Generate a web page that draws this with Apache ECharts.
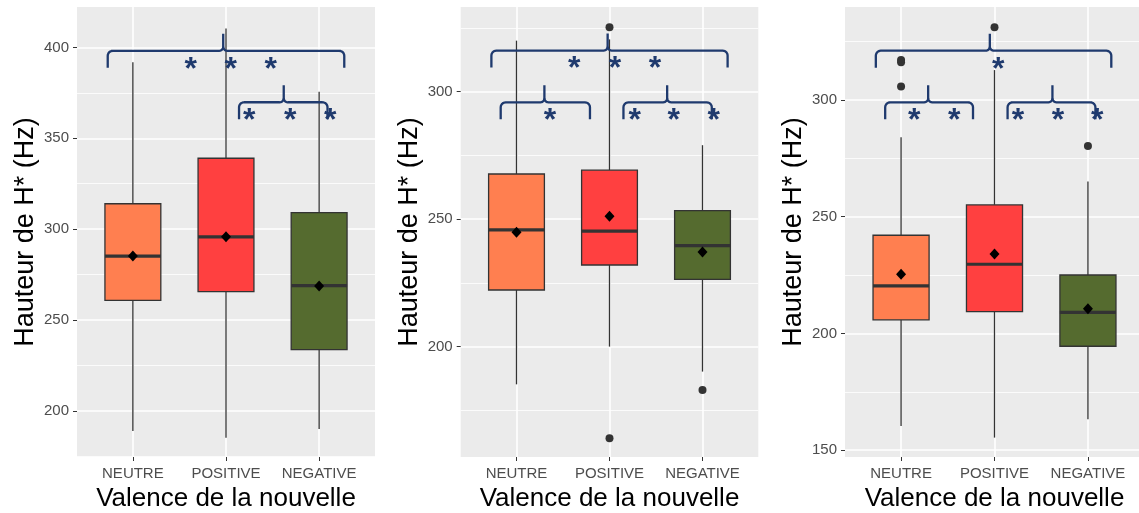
<!DOCTYPE html>
<html><head><meta charset="utf-8">
<script src="https://cdn.jsdelivr.net/npm/echarts@6/dist/echarts.min.js"></script>
<style>html,body{margin:0;padding:0;background:#fff}#c{width:1139px;height:513px}</style>
</head><body><div id="c"></div>
<script>
const categories = ['NEUTRE', 'POSITIVE', 'NEGATIVE'];
const catTicks = [0, 1, 2];

// Panel 1
const yRange1 = [174.7, 422.2];
const yTicks1 = [200, 250, 300, 350, 400];
const yMinor1 = [175, 225, 275, 325, 375];
// [lower whisker, Q1, median, Q3, upper whisker]
const box1 = [[189, 260.8, 285.2, 314, 391.8], [185.3, 265.7, 295.8, 339, 410.4], [190.1, 233.8, 269, 309.1, 375.6]];
const mean1 = [285.2, 295.8, 268.8];
const outliers1 = [];
// braces: [start, end, tip, level]
const braces1 = [[-0.27, 2.27, 0.97, 398.1], [1.14, 2.09, 1.62, 369.8]];
const stars1 = [[0.62, 1.05, 1.48], [1.25, 1.69, 2.12]];

// Panel 2
const yRange2 = [156.7, 333.2];
const yTicks2 = [200, 250, 300];
const yMinor2 = [175, 225, 275, 325];
const box2 = [[185.2, 222.2, 245.8, 267.7, 320], [200, 232, 245.3, 269.2, 320.5], [190.2, 226.4, 239.6, 253.3, 279]];
const mean2 = [244.9, 251.1, 237.1];
const outliers2 = [[1, 325.3], [1, 164.1], [2, 183]];
const braces2 = [[-0.27, 2.27, 0.98, 316.1], [-0.17, 0.79, 0.30, 295.8], [1.15, 2.10, 1.62, 295.8]];
const stars2 = [[0.62, 1.06, 1.49], [0.36], [1.27, 1.69, 2.12]];

// Panel 3
const yRange3 = [147.1, 339.7];
const yTicks3 = [150, 200, 250, 300];
const yMinor3 = [175, 225, 275, 325];
const box3 = [[160.4, 205.8, 220.3, 242, 283.9], [155.4, 209.3, 229.6, 255, 312.7], [163.3, 194.5, 209, 225, 265]];
const mean3 = [225.3, 234, 210.6];
const outliers3 = [[0, 317], [0, 316], [0, 305.7], [1, 331], [2, 280.2]];
const braces3 = [[-0.27, 2.25, 0.95, 321.0], [-0.17, 0.77, 0.29, 298.9], [1.14, 2.08, 1.62, 298.9]];
const stars3 = [[1.04], [0.14, 0.57], [1.25, 1.68, 2.10]];

const yTitle = 'Hauteur de H* (Hz)';
const xTitle = 'Valence de la nouvelle';

const panels = [
  {range: yRange1, ticks: yTicks1, minor: yMinor1, box: box1, mean: mean1, out: outliers1, braces: braces1, stars: stars1},
  {range: yRange2, ticks: yTicks2, minor: yMinor2, box: box2, mean: mean2, out: outliers2, braces: braces2, stars: stars2},
  {range: yRange3, ticks: yTicks3, minor: yMinor3, box: box3, mean: mean3, out: outliers3, braces: braces3, stars: stars3}
];

const FONT = '"Liberation Sans", Arial, sans-serif';
const boxColors = ['#FF7F50', '#FF4040', '#556B2F'];
const BOX_WIDTH = 0.6;
const BRACE_COLOR = '#1F3A6E';
const gridsPos = [
  {left: 77, top: 7, width: 298, height: 450},
  {left: 460.7, top: 7, width: 297.6, height: 450},
  {left: 845, top: 7, width: 299, height: 450}
];

function renderBox(params, api) {
  const x = api.value(0);
  const p = k => api.coord([x, api.value(k)]);
  const lo = p(1), q1 = p(2), md = p(3), q3 = p(4), hi = p(5);
  const w = api.size([BOX_WIDTH, 0])[0];
  const cx = lo[0];
  const ls = {stroke: '#333', lineWidth: 1.3};
  return {type: 'group', children: [
    {type: 'line', shape: {x1: cx, y1: hi[1], x2: cx, y2: q3[1]}, style: ls},
    {type: 'line', shape: {x1: cx, y1: q1[1], x2: cx, y2: lo[1]}, style: ls},
    {type: 'rect', shape: {x: cx - w / 2, y: q3[1], width: w, height: q1[1] - q3[1]}, style: {fill: boxColors[x], stroke: '#333', lineWidth: 1.3}},
    {type: 'line', shape: {x1: cx - w / 2, y1: md[1], x2: cx + w / 2, y2: md[1]}, style: {stroke: '#333', lineWidth: 3.2}}
  ]};
}

function corner(cx, cy, r, a0, a1, n) {
  const pts = [];
  for (let i = 0; i <= n; i++) {
    const a = a0 + (a1 - a0) * i / n;
    pts.push([cx + r * Math.cos(a), cy + r * Math.sin(a)]);
  }
  return pts;
}

function makeBraceRenderer(starsList) {
  return function (params, api) {
    const s = api.coord([api.value(0), api.value(3)]);
    const e = api.coord([api.value(1), api.value(3)]);
    const m = api.coord([api.value(2), api.value(3)]);
    const yt = s[1];
    const drop = 17, rise = 17, r = 5, rm = 4;
    const PI = Math.PI;
    let left = [[s[0], yt + drop]];
    left = left.concat(corner(s[0] + r, yt + r, r, PI, 1.5 * PI, 6));
    left = left.concat(corner(m[0] - rm, yt - rm, rm, 0.5 * PI, 0, 6));
    left.push([m[0], yt - rise]);
    let right = [[m[0], yt - rm]];
    right = right.concat(corner(m[0] + rm, yt - rm, rm, PI, 0.5 * PI, 6));
    right = right.concat(corner(e[0] - r, yt + r, r, 1.5 * PI, 2 * PI, 6));
    right.push([e[0], yt + drop]);
    const st = {stroke: BRACE_COLOR, lineWidth: 2.3, fill: null, lineJoin: 'round'};
    const children = [
      {type: 'polyline', shape: {points: left}, style: st},
      {type: 'polyline', shape: {points: right}, style: st}
    ];
    const stars = starsList[params.dataIndex] || [];
    stars.forEach(function (sx) {
      const pt = api.coord([sx, api.value(3)]);
      children.push({type: 'text', x: pt[0], y: yt + 19, style: {text: '*', fill: BRACE_COLOR, font: 'bold 32px ' + FONT, align: 'center', verticalAlign: 'middle'}});
    });
    return {type: 'group', children: children};
  };
}

const grid = [], xAxis = [], yAxis = [], series = [];
panels.forEach(function (P, i) {
  grid.push(Object.assign({show: true, backgroundColor: '#EBEBEB', borderWidth: 0, containLabel: false, outerBoundsMode: 'none'}, gridsPos[i]));
  xAxis.push({
    type: 'value', gridIndex: i, min: -0.6, max: 2.6,
    axisLine: {show: false, onZero: false},
    axisTick: {show: true, customValues: catTicks, length: 4, lineStyle: {color: '#333', width: 1}},
    axisLabel: {customValues: catTicks, formatter: v => categories[Math.round(v)], fontSize: 15, color: '#4D4D4D', margin: 9, fontFamily: FONT},
    splitLine: {show: true, lineStyle: {color: '#FFFFFF', width: 1.6}},
    name: xTitle, nameLocation: 'middle', nameGap: 27,
    nameTextStyle: {fontSize: 26, color: '#000', fontFamily: FONT}
  });
  yAxis.push({
    type: 'value', gridIndex: i, min: P.range[0], max: P.range[1], position: 'left',
    axisLine: {show: false, onZero: false},
    axisTick: {show: true, customValues: P.ticks, length: 4, lineStyle: {color: '#333', width: 1}},
    axisLabel: {customValues: P.ticks, fontSize: 15, color: '#4D4D4D', margin: 8, fontFamily: FONT},
    splitLine: {show: true, lineStyle: {color: '#FFFFFF', width: 1.6}},
    name: yTitle, nameLocation: 'middle', nameGap: 38,
    nameTextStyle: {fontSize: 27, color: '#000', fontFamily: FONT}
  });
  yAxis.push({
    type: 'value', gridIndex: i, min: P.range[0], max: P.range[1], position: 'left',
    axisLine: {show: false, onZero: false},
    axisTick: {show: false, customValues: P.minor},
    axisLabel: {show: false},
    splitLine: {show: true, lineStyle: {color: '#FFFFFF', width: 0.8}}
  });
  const yi = 2 * i;
  series.push({
    type: 'custom', xAxisIndex: i, yAxisIndex: yi, renderItem: renderBox, z: 2,
    encode: {x: 0, y: [1, 2, 3, 4, 5]},
    data: P.box.map((b, k) => [k].concat(b))
  });
  series.push({
    type: 'scatter', xAxisIndex: i, yAxisIndex: yi, symbol: 'circle', symbolSize: 8, z: 3,
    itemStyle: {color: '#333', opacity: 1}, data: P.out
  });
  series.push({
    type: 'scatter', xAxisIndex: i, yAxisIndex: yi, symbol: 'diamond', symbolSize: [10, 11], z: 4,
    itemStyle: {color: '#000', opacity: 1}, data: P.mean.map((m, k) => [k, m])
  });
  series.push({
    type: 'custom', xAxisIndex: i, yAxisIndex: yi, renderItem: makeBraceRenderer(P.stars), z: 5, clip: false,
    encode: {x: [0, 1, 2], y: 3},
    data: P.braces
  });
});

const chart = echarts.init(document.getElementById('c'), null, {renderer: 'canvas'});
chart.setOption({animation: false, backgroundColor: '#fff', grid: grid, xAxis: xAxis, yAxis: yAxis, series: series});
</script></body></html>
